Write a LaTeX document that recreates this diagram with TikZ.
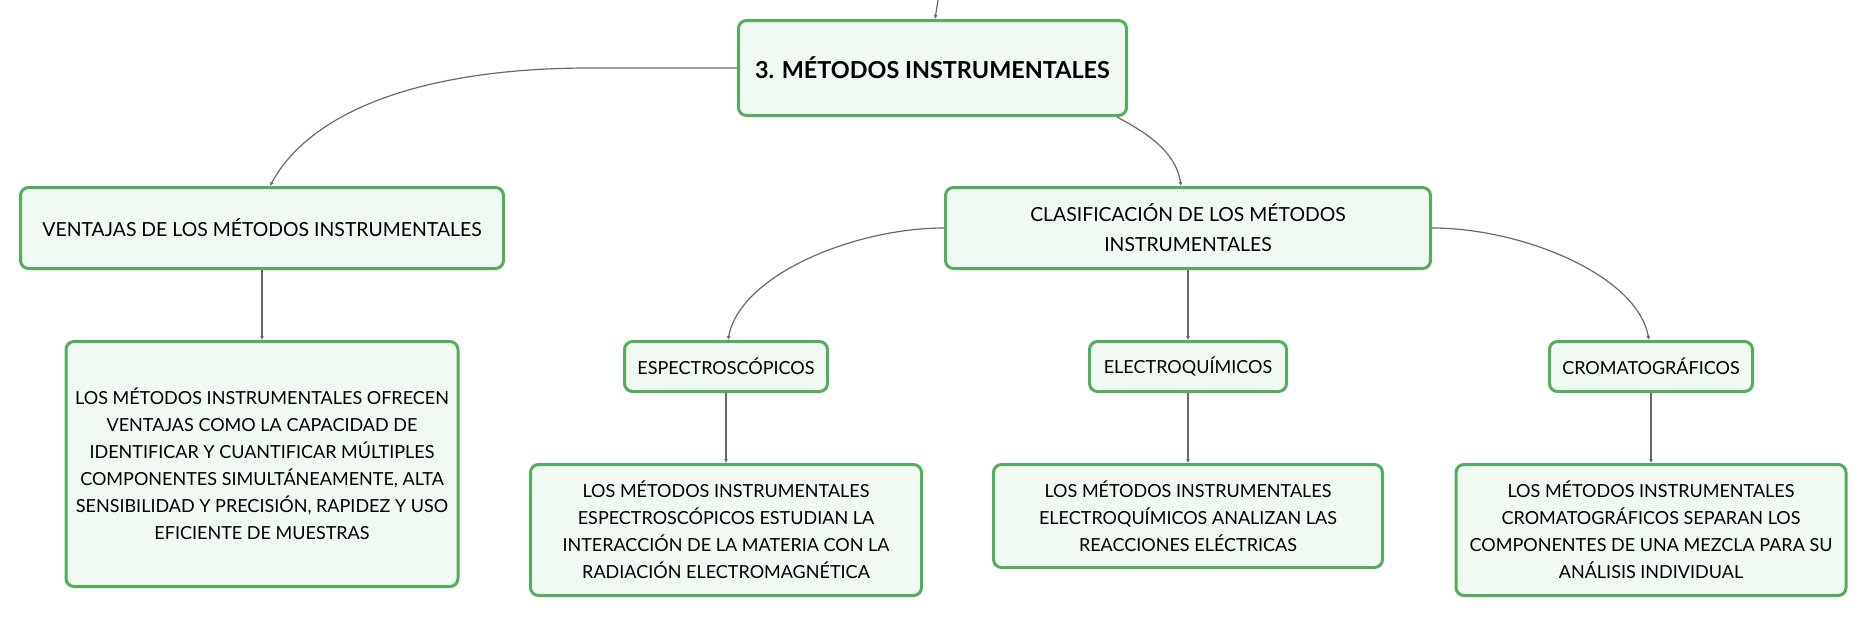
\documentclass[tikz,border=0pt]{standalone}
\usepackage{fontspec}
\setmainfont{Lato}
\usepackage{tikz}
\usetikzlibrary{positioning,arrows.meta}
\definecolor{verde}{RGB}{86,172,94}
\definecolor{fondo}{RGB}{241,249,243}
\definecolor{linea}{RGB}{105,105,105}
\tikzset{>={Latex[length=2pt,width=2pt]}}

\begin{document}
\begin{tikzpicture}[x=0.5pt, y=-0.5pt, font=\fontsize{9}{13.5}\selectfont,
    tema/.style={draw=verde, line width=1.5pt, fill=fondo, rounded corners=4pt, align=center, inner sep=0pt},
    subtema/.style={tema, font=\fontsize{9.7}{15}\selectfont},
    enlace/.style={->, draw=linea, line width=0.6pt}]
            \useasboundingbox (0,0) rectangle (1867,618);
            \node[tema, minimum width=194pt, minimum height=47.5pt, font=\fontsize{11.7}{15}\bfseries] (main) at (932.5,68) {3. MÉTODOS INSTRUMENTALES}; %central node
            \node[subtema, minimum width=241.5pt, minimum height=40.5pt] (vent) at (262,228) {VENTAJAS DE LOS MÉTODOS INSTRUMENTALES};
            \node[subtema, minimum width=242.5pt, minimum height=40.5pt] (clas) at (1188,228) {CLASIFICACIÓN DE LOS MÉTODOS\\INSTRUMENTALES};
            \node[tema, minimum width=196pt, minimum height=122.5pt] (ventxt) [below=35pt of vent] {LOS MÉTODOS INSTRUMENTALES OFRECEN\\VENTAJAS COMO LA CAPACIDAD DE\\IDENTIFICAR Y CUANTIFICAR MÚLTIPLES\\COMPONENTES SIMULTÁNEAMENTE, ALTA\\SENSIBILIDAD Y PRECISIÓN, RAPIDEZ Y USO\\EFICIENTE DE MUESTRAS};
            \node[tema, minimum width=98.5pt, minimum height=25pt] (ele) [below=35pt of clas] {ELECTROQUÍMICOS};
            \node[tema, minimum width=101.5pt, minimum height=25pt] (esp) [left=129.5pt of ele] {ESPECTROSCÓPICOS};
            \node[tema, minimum width=101.5pt, minimum height=25pt] (cro) [right=130pt of ele] {CROMATOGRÁFICOS};
            \node[tema, minimum width=195.5pt, minimum height=65.5pt] (esptxt) [below=35pt of esp] {LOS MÉTODOS INSTRUMENTALES\\ESPECTROSCÓPICOS ESTUDIAN LA\\INTERACCIÓN DE LA MATERIA CON LA\\RADIACIÓN ELECTROMAGNÉTICA};
            \node[tema, minimum width=194.5pt, minimum height=51.5pt] (eletxt) [below=35pt of ele] {LOS MÉTODOS INSTRUMENTALES\\ELECTROQUÍMICOS ANALIZAN LAS\\REACCIONES ELÉCTRICAS};
            \node[tema, minimum width=195pt, minimum height=65.5pt] (crotxt) [below=35pt of cro] {LOS MÉTODOS INSTRUMENTALES\\CROMATOGRÁFICOS SEPARAN LOS\\COMPONENTES DE UNA MEZCLA PARA SU\\ANÁLISIS INDIVIDUAL};
            \coordinate (arriba) at (938,0);

            \draw[enlace] (arriba) -- ([xshift=1.25pt]main.north);
            \draw[enlace] (main.west) -- ++(-147,0) .. controls +(-170,0) and +(40,-74) .. ([xshift=4pt]vent.north);
            \draw[enlace] ([xshift=-5.5pt]main.south east) .. controls +(28,15) and +(-5,-35) .. ([xshift=-3.5pt]clas.north);
            \draw[enlace] (clas.west) .. controls +(-90,0) and +(12,-65) .. ([xshift=1pt]esp.north);
            \draw[enlace] (clas.east) .. controls +(90,0) and +(-12,-65) .. ([xshift=-1pt]cro.north);
            \path[enlace]
            (vent) edge (ventxt)
            (clas) edge (ele)
            (esp) edge (esptxt)
            (ele) edge (eletxt)
            (cro) edge (crotxt);
          \end{tikzpicture}
\end{document}
